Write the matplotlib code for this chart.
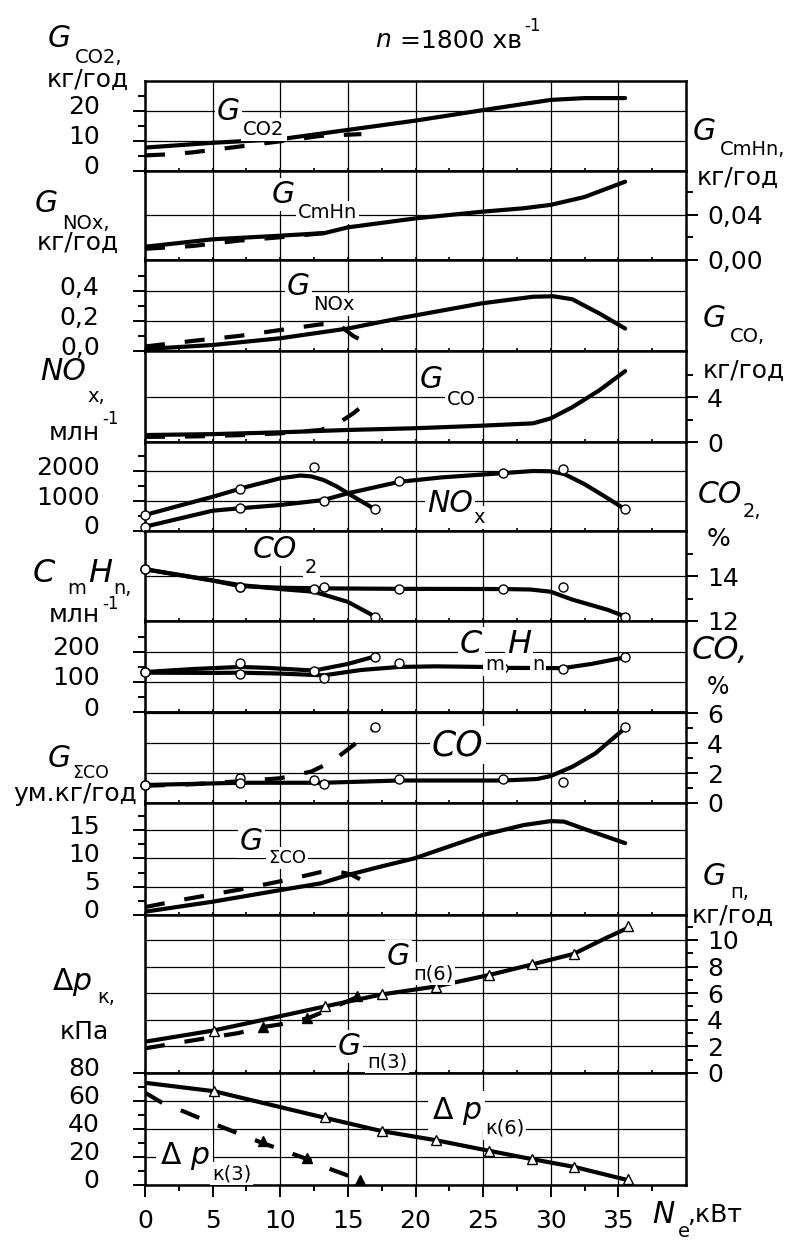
import matplotlib
matplotlib.use("Agg")
import matplotlib.pyplot as plt
from matplotlib.transforms import ScaledTranslation

plt.rcParams['font.family'] = ['DejaVu Sans']
plt.rcParams['mathtext.fontset'] = 'dejavusans'

W, H = 795, 1240
X0, X1 = 145, 686
EDGES = [81, 171, 260, 351, 442, 531, 621, 712, 803, 915, 1073, 1185]

FS = 18        # tick labels, units
FB = 21.5      # big italic letters
FSUB = 14      # subscripts
LW = 3.0
DASH = (4.8, 4.8)

# ----------------------------
# data (N_e, kW)
# ----------------------------
x_major = [0, 5, 10, 15, 20, 25, 30, 35]
x_labels = ['0', '5', '10', '15', '20', '25', '30', '35']
x_minor = [2.5, 7.5, 12.5, 17.5, 22.5, 27.5, 32.5, 37.5]

# G_CO2, kg/h
ne_gco2_6 = [0, 5, 10, 15, 20, 25, 30, 32.5, 35.5]
gco2_6 = [7.8, 9.4, 10.6, 13.7, 16.8, 20.3, 23.7, 24.3, 24.3]
ne_gco2_3 = [0, 1.5, 3.5, 6.9, 10, 13, 16]
gco2_3 = [5.2, 5.5, 6.2, 8.1, 9.9, 11.7, 12.3]

# G_CmHn, kg/h
ne_gch_6 = [0, 5, 10, 13.3, 15, 17.5, 20, 25, 28, 30, 32.5, 35.5]
gch_6 = [0.0118, 0.0184, 0.0216, 0.024, 0.029, 0.033, 0.037, 0.043, 0.046, 0.049, 0.056, 0.0696]
ne_gch_3 = [0, 3.5, 6.9, 10, 13.8]
gch_3 = [0.010, 0.0124, 0.0172, 0.0202, 0.0245]

# G_NOx, kg/h
ne_gnox_6 = [0, 5, 10, 15, 18.8, 24.9, 28.7, 30.2, 31.6, 33.6, 35.5]
gnox_6 = [0.013, 0.04, 0.085, 0.15, 0.218, 0.318, 0.362, 0.365, 0.345, 0.25, 0.15]
ne_gnox_3 = [0, 3.5, 6.9, 10, 13, 14.2, 15.4, 16]
gnox_3 = [0.03, 0.067, 0.1, 0.14, 0.178, 0.185, 0.1, 0.073]

# G_CO, kg/h
ne_gco_6 = [0, 5, 10, 15, 19.9, 24.9, 28.7, 30, 31.6, 33.6, 35.5]
gco_6 = [0.62, 0.7, 0.86, 1.07, 1.22, 1.45, 1.66, 2.1, 3.1, 4.6, 6.3]
ne_gco_3 = [0, 3.8, 7.3, 10, 13, 14.2, 15.4, 16]
gco_3 = [0.45, 0.5, 0.62, 0.77, 1.07, 1.6, 2.55, 3.14]

# measured points
ne_pts_3 = [0, 7, 12.5, 17]
ne_pts_6 = [0, 7, 13.2, 18.8, 26.5, 30.9, 35.5]

# NOx, ppm
nox_pts_3 = [533, 1390, 2143, 723]
nox_pts_6 = [130, 757, 1010, 1667, 1923, 2057, 723]
ne_nox_3 = [0, 2.5, 5, 7.5, 10, 11.5, 12.3, 13.2, 14.2, 15, 16, 17]
nox_3 = [533, 840, 1140, 1470, 1757, 1850, 1820, 1700, 1480, 1257, 990, 723]
ne_nox_6 = [0, 5, 7, 10, 13.2, 15, 18.8, 22, 26.5, 28.7, 30, 31, 32.5, 34, 35.5]
nox_6 = [143, 677, 757, 867, 1033, 1257, 1640, 1790, 1930, 2000, 1990, 1900, 1560, 1150, 723]

# CO2, %
co2_pts_3 = [14.3, 13.5, 13.41, 12.19]
co2_pts_6 = [14.3, 13.5, 13.5, 13.43, 13.41, 13.5, 12.19]
ne_co2_3 = [0, 5, 7, 10, 12.5, 15, 17]
co2_3 = [14.3, 13.8, 13.6, 13.42, 13.3, 12.85, 12.2]
ne_co2_6 = [0, 5, 7, 10, 13.2, 18.8, 26.5, 28.5, 30, 31.6, 34.2, 35.5]
co2_6 = [14.3, 13.8, 13.55, 13.48, 13.45, 13.43, 13.42, 13.4, 13.3, 12.95, 12.5, 12.2]

# CmHn, ppm
chn_pts_3 = [134, 162, 138, 184]
chn_pts_6 = [134, 127, 112, 162, 146, 142, 182]
ne_chn_3 = [0, 3.5, 7, 9, 12.5, 15, 17]
chn_3 = [133, 143, 150, 147, 138, 160, 185]
ne_chn_6 = [0, 5, 7, 10, 13.2, 16, 18.8, 21.5, 25, 26.5, 30.9, 33, 35.5]
chn_6 = [131, 130, 131, 128, 122, 140, 150, 152, 150, 147, 146, 160, 182]

# CO, %
co_pts_3 = [1.2, 1.64, 1.53, 5.04]
co_pts_6 = [1.2, 1.31, 1.27, 1.58, 1.58, 1.42, 5.04]
ne_co_3 = [0, 3.5, 7, 10, 12.3, 13.8, 15.4, 17]
co_3 = [1.15, 1.25, 1.45, 1.65, 2.1, 2.75, 3.85, 5.0]
ne_co_6 = [0, 7, 13.2, 18.8, 26.5, 29, 30, 31.6, 33.3, 35.5]
co_6 = [1.2, 1.35, 1.35, 1.5, 1.5, 1.6, 1.8, 2.42, 3.31, 5.0]

# G_sumCO, kg/h
ne_gsco_6 = [0, 5, 10, 13, 15, 17.5, 19.9, 24.9, 28, 30, 31, 32.5, 35.5]
gsco_6 = [0.58, 2.35, 4.4, 5.6, 7.07, 8.6, 10.0, 14.1, 15.9, 16.6, 16.5, 15.2, 12.7]
ne_gsco_3 = [0, 3, 7, 10.5, 13, 14.2, 15.2, 16]
gsco_3 = [1.4, 2.8, 4.5, 6.2, 7.6, 7.7, 7.2, 6.2]

# G_p, kg/h
ne_tri_6 = [5.1, 13.3, 17.5, 21.5, 25.4, 28.6, 31.7, 35.7]
gp_tri_6 = [3.16, 5.04, 5.92, 6.49, 7.37, 8.17, 8.95, 11.05]
ne_gp_6 = [0, 5.1, 9, 13.3, 17.5, 21.5, 25.4, 28.6, 31.7, 34, 35.7]
gp_6 = [2.35, 3.2, 4.05, 5.0, 5.9, 6.5, 7.35, 8.15, 8.95, 10.1, 10.9]
ne_tri_3 = [8.74, 11.96, 15.7]
gp_tri_3 = [3.48, 4.11, 5.75]
ne_gp_3 = [0, 3.7, 6.9, 8.7, 10, 12, 12.85, 15.9]
gp_3 = [1.85, 2.48, 3.0, 3.45, 3.65, 4.1, 4.45, 5.8]

# delta p_k, kPa
dp_tri_6 = [67.1, 48.3, 38.6, 32.1, 24.3, 18.3, 13.1, 4.0]
ne_dp_6 = [0, 5.1, 13.3, 17.5, 21.5, 25.4, 28.6, 31.7, 35.7]
dp_6 = [73, 67, 48, 38.5, 32, 24.5, 18.5, 13, 3.5]
ne_dtri_3 = [8.74, 11.96, 15.9]
dp_tri_3 = [31.4, 19, 3.6]
ne_dp_3 = [0, 1.3, 3, 4.6, 6.2, 7.6, 8.7, 10.7, 12, 13.8, 15.9]
dp_3 = [66, 58.5, 52, 45.5, 39.5, 34, 30, 23, 18.5, 11, 3.6]

fig = plt.figure(figsize=(W / 100, H / 100), dpi=100)
last = len(EDGES) - 2


def panel(i, side, ylim, major, labels, minor):
    top, bot = EDGES[i], EDGES[i + 1]
    ax = fig.add_axes([X0 / W, 1 - bot / H, (X1 - X0) / W, (bot - top) / H])
    ax.set_xlim(0, 40)
    ax.set_ylim(*ylim)
    ax.set_xticks(x_major)
    ax.set_xticks(x_minor, minor=True)
    ax.set_yticks(major)
    ax.set_yticklabels(labels)
    ax.set_yticks(minor, minor=True)
    for s in ax.spines.values():
        s.set_linewidth(1.8)
    ax.grid(True, which='major', color='k', lw=0.9)
    ax.set_axisbelow(True)
    if side == 'right':
        ax.yaxis.tick_right()
        ax.tick_params(axis='y', which='major', length=8.6, width=1.4, pad=6.5,
                       labelsize=FS, direction='out')
    else:
        ax.tick_params(axis='y', which='major', length=8.6, width=1.4, pad=24,
                       labelsize=FS, direction='out')
    ax.tick_params(axis='y', which='minor', length=5, width=1.4, direction='out')
    if i == last:
        ax.set_xticklabels(x_labels)
        ax.tick_params(axis='x', which='major', length=8.6, width=1.4, pad=9,
                       labelsize=FS, direction='out')
        ax.tick_params(axis='x', which='minor', length=4.5, width=1.4, direction='out')
    else:
        ax.tick_params(axis='x', which='both', length=4, width=1.2,
                       direction='inout', labelbottom=False)
    if side == 'left':
        up = ScaledTranslation(0, 0.06, fig.dpi_scale_trans)
        for lab in ax.get_yticklabels():
            lab.set_transform(lab.get_transform() + up)
    return ax


ax1 = panel(0, 'left', (0, 30), [0, 10, 20], ['0', '10', '20'], [5, 15, 25])
ax2 = panel(1, 'right', (0, 0.0791), [0, 0.04], ['0,00', '0,04'], [0.02, 0.06])
ax3 = panel(2, 'left', (0, 0.607), [0, 0.2, 0.4], ['0,0', '0,2', '0,4'], [0.1, 0.3, 0.5])
ax4 = panel(3, 'right', (0, 8.09), [0, 4], ['0', '4'], [2, 6])
ax5 = panel(4, 'left', (0, 2967), [0, 1000, 2000], ['0', '1000', '2000'], [500, 1500, 2500])
ax6 = panel(5, 'right', (12, 16), [12, 14], ['12', '14'], [13, 15])
ax7 = panel(6, 'left', (0, 303), [0, 100, 200], ['0', '100', '200'], [50, 150, 250])
ax8 = panel(7, 'right', (0, 6.07), [0, 2, 4, 6], ['0', '2', '4', '6'], [1, 3, 5])
ax9 = panel(8, 'left', (0, 19.8), [0, 5, 10, 15], ['0', '5', '10', '15'], [2.5, 7.5, 12.5, 17.5])
ax10 = panel(9, 'right', (0, 11.87), [0, 2, 4, 6, 8, 10], ['0', '2', '4', '6', '8', '10'],
             [1, 3, 5, 7, 9, 11])
ax11 = panel(10, 'left', (0, 80), [0, 20, 40, 60, 80], ['0', '20', '40', '60', '80'],
             [10, 30, 50, 70])

solid = dict(color='k', lw=LW, solid_capstyle='round')
dashed = dict(color='k', lw=LW, dashes=DASH)
circ = dict(ls='none', marker='o', ms=6.5, mfc='white', mec='k', mew=1, zorder=4, clip_on=False)
tri_o = dict(ls='none', marker='^', ms=7.5, mfc='white', mec='k', mew=1, zorder=4, clip_on=False)
tri_f = dict(ls='none', marker='^', ms=7.5, mfc='k', mec='k', mew=1, zorder=4, clip_on=False)

ax1.plot(ne_gco2_6, gco2_6, **solid)
ax1.plot(ne_gco2_3, gco2_3, **dashed)
ax2.plot(ne_gch_6, gch_6, **solid)
ax2.plot(ne_gch_3, gch_3, **dashed)
ax3.plot(ne_gnox_6, gnox_6, **solid)
ax3.plot(ne_gnox_3, gnox_3, **dashed)
ax4.plot(ne_gco_6, gco_6, **solid)
ax4.plot(ne_gco_3, gco_3, **dashed)

ax5.plot(ne_nox_3, nox_3, **solid)
ax5.plot(ne_nox_6, nox_6, **solid)
ax5.plot(ne_pts_3, nox_pts_3, **circ)
ax5.plot(ne_pts_6, nox_pts_6, **circ)

ax6.plot(ne_co2_3, co2_3, **solid)
ax6.plot(ne_co2_6, co2_6, **solid)
ax6.plot(ne_pts_3, co2_pts_3, **circ)
ax6.plot(ne_pts_6, co2_pts_6, **circ)

ax7.plot(ne_chn_3, chn_3, **solid)
ax7.plot(ne_chn_6, chn_6, **solid)
ax7.plot(ne_pts_3, chn_pts_3, **circ)
ax7.plot(ne_pts_6, chn_pts_6, **circ)

ax8.plot(ne_co_3, co_3, **dashed)
ax8.plot(ne_co_6, co_6, **solid)
ax8.plot(ne_pts_3, co_pts_3, **circ)
ax8.plot(ne_pts_6, co_pts_6, **circ)

ax9.plot(ne_gsco_6, gsco_6, **solid)
ax9.plot(ne_gsco_3, gsco_3, **dashed)

ax10.plot(ne_gp_6, gp_6, **solid)
ax10.plot(ne_gp_3, gp_3, **dashed)
ax10.plot(ne_tri_6, gp_tri_6, **tri_o)
ax10.plot(ne_tri_3, gp_tri_3, **tri_f)

ax11.plot(ne_dp_6, dp_6, **solid)
ax11.plot(ne_dp_3, dp_3, **dashed)
ax11.plot(ne_tri_6, dp_tri_6, **tri_o)
ax11.plot(ne_dtri_3, dp_tri_3, **tri_f)


# text placed in pixel coords of the figure (x left edge, y baseline)
def put(x, y, s, size=FS, style='normal', bg=False, ha='left', pad=1.5):
    kw = dict(bbox=dict(fc='white', ec='none', pad=pad)) if bg else {}
    fig.text(x / W, 1 - y / H, s, fontsize=size, style=style, ha=ha, va='baseline', **kw)


# title
put(375, 47, 'n', 18, 'italic')
put(400, 48, '=1800 хв')
put(524, 31, '-1', 12)

# left axis titles
put(48, 47, 'G', FB, 'italic'); put(75, 63, 'CO2,', FSUB); put(88, 87, 'кг/год', ha='center')
put(35, 212, 'G', FB, 'italic'); put(62, 229, 'NOx,', FSUB); put(78, 250, 'кг/год', ha='center')
put(40, 380, 'NO', FB, 'italic'); put(87, 402, 'x,', FSUB)
put(100, 440, 'млн', ha='right'); put(102, 424, '-1', 12)
put(33, 582, 'C', 23, 'italic'); put(67, 594, 'm', FSUB); put(88, 582, 'H', 23, 'italic')
put(113, 594, 'n,', FSUB); put(100, 622, 'млн', ha='right'); put(102, 609, '-1', 12)
put(48, 767, 'G', FB, 'italic'); put(72, 778, 'ΣCO', 12.5); put(75, 801, 'ум.кг/год', ha='center')
put(52, 990, r'$\Delta p$', FB); put(97, 1003, 'к,', FSUB)
put(84, 1039, 'кПа', ha='center')

# right axis titles
put(693, 140, 'G', FB, 'italic'); put(720, 155, 'CmHn,', FSUB); put(738, 185, 'кг/год', ha='center')
put(703, 327, 'G', FB, 'italic'); put(730, 342, 'CO,', FSUB); put(744, 378, 'кг/год', ha='center')
put(698, 503, 'CO', FB, 'italic'); put(743, 517, '2,', FSUB); put(707, 546, '%')
put(692, 659, 'CO,', 23, 'italic'); put(707, 694, '%', 17)
put(703, 885, 'G', FB, 'italic'); put(730, 898, 'п,', FSUB); put(733, 923, 'кг/год', ha='center')
put(652, 1223, 'N', FB, 'italic'); put(678, 1237, 'e', FSUB); put(687, 1222, ',кВт')

# curve labels inside the panels
put(217, 120, 'G', FB, 'italic', True); put(243, 135, 'CO2', FSUB, bg=True)
put(272, 203, 'G', FB, 'italic', True); put(298, 218, 'CmHn', FSUB, bg=True)
put(287, 295, 'G', FB, 'italic', True); put(313, 310, 'NOx', FSUB, bg=True)
put(420, 388, 'G', FB, 'italic', True); put(447, 405, 'CO', FSUB, bg=True)
put(427, 512, 'NO', FB, 'italic', True); put(473, 523, 'x', FSUB, bg=True)
put(253, 558, 'CO', FB, 'italic', True); put(305, 573, '2', FSUB, bg=True)
put(460, 653, 'C', 23, 'italic', True); put(485, 670, 'm', FSUB, bg=True)
put(507, 653, 'H', 23, 'italic', True); put(532, 670, 'n', FSUB, bg=True)
put(432, 755, 'CO', 25, 'italic', True)
put(240, 850, 'G', FB, 'italic', True); put(268, 863, 'ΣCO', 13, bg=True)
put(387, 965, 'G', FB, 'italic', True); put(413, 979, 'п(6)', FSUB, bg=True)
put(338, 1055, 'G', FB, 'italic', True); put(367, 1067, 'п(3)', FSUB, bg=True)
put(432, 1119, r'$\Delta\ p$', FB, bg=True, pad=2.5); put(485, 1134, 'к(6)', FSUB, bg=True)
put(160, 1164, r'$\Delta\ p$', FB, bg=True, pad=2.5); put(212, 1179, 'к(3)', FSUB, bg=True)

fig.savefig('out.png', dpi=100)
